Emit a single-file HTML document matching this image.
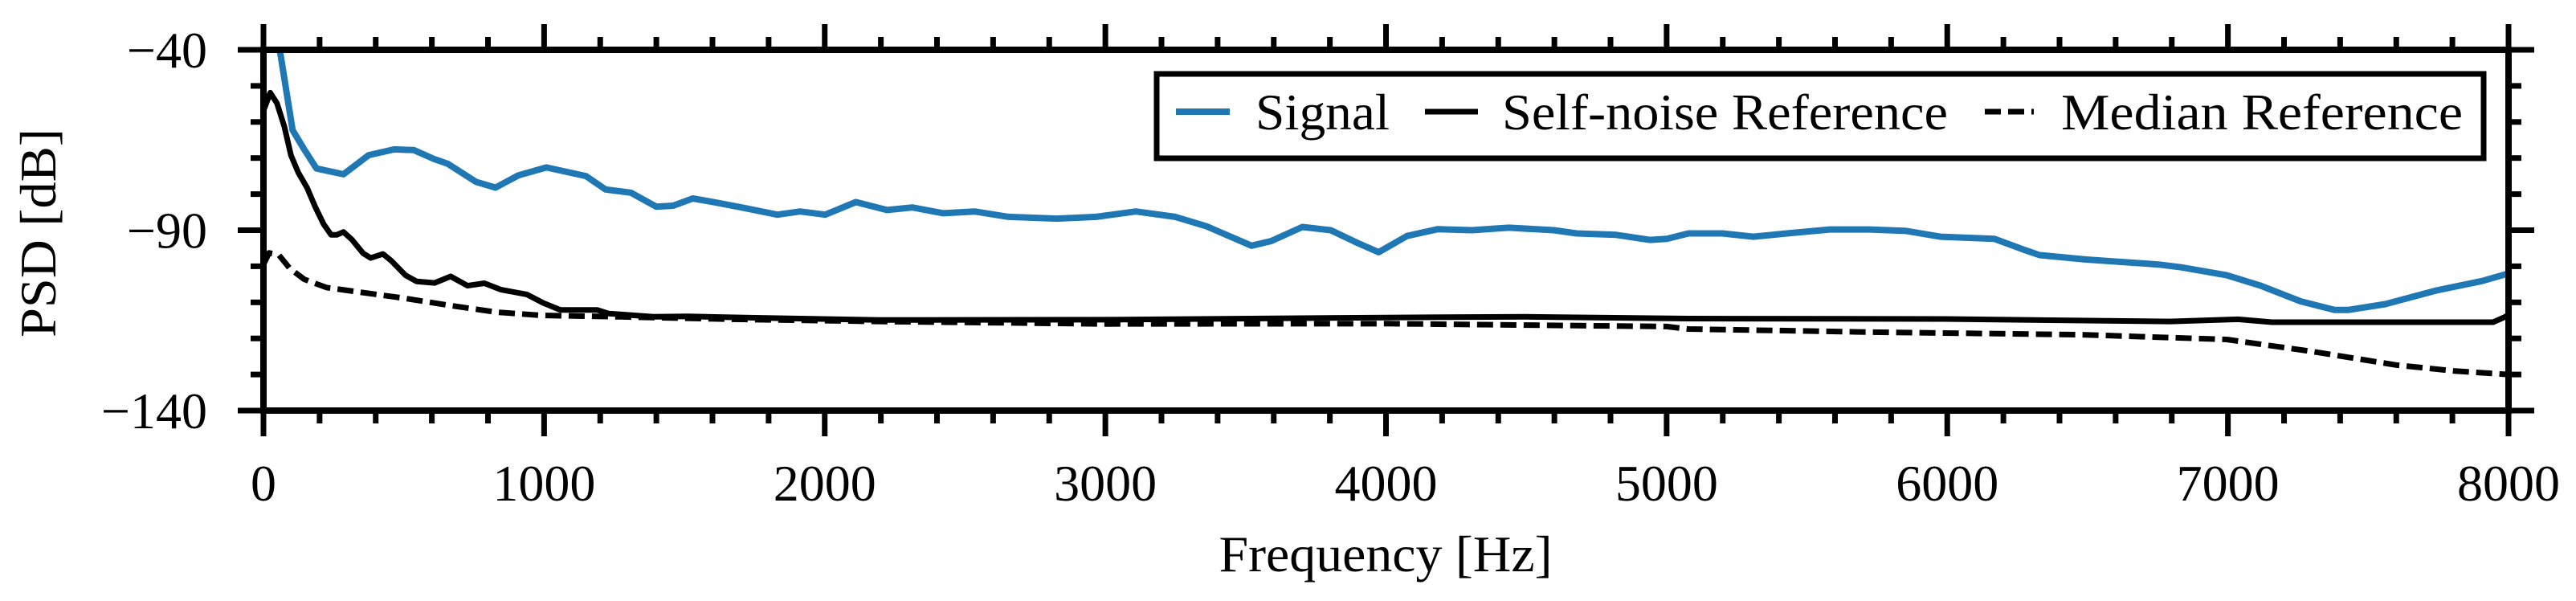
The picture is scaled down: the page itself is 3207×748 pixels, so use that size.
<!DOCTYPE html>
<html><head><meta charset="utf-8"><style>
html,body{margin:0;padding:0;background:#fff;}
svg{display:block;font-family:"Liberation Serif",serif;}
</style></head><body>
<svg id="chart" width="3207" height="748" viewBox="0 0 3207 748" xmlns="http://www.w3.org/2000/svg">
<defs><clipPath id="plotclip"><rect x="328" y="62" width="2795" height="449"/></clipPath></defs>
<g id="series" clip-path="url(#plotclip)"></g>
<g id="axes"></g>
<text x="1725" y="711" font-size="64" text-anchor="middle" textLength="415" lengthAdjust="spacingAndGlyphs">Frequency [Hz]</text>
<text transform="translate(69,290) rotate(-90)" font-size="64" text-anchor="middle" textLength="260" lengthAdjust="spacingAndGlyphs">PSD [dB]</text>
<g>
<rect x="1440" y="92" width="1652" height="105" fill="#fff" stroke="#000" stroke-width="7"/>
<line x1="1464" y1="139" x2="1531" y2="139" stroke="#1f77b4" stroke-width="8"/>
<text x="1563" y="161" font-size="64" textLength="167" lengthAdjust="spacingAndGlyphs">Signal</text>
<line x1="1774" y1="139" x2="1840" y2="139" stroke="#000" stroke-width="7"/>
<text x="1870" y="161" font-size="64" textLength="555" lengthAdjust="spacingAndGlyphs">Self-noise Reference</text>
<line x1="2471" y1="139" x2="2532" y2="139" stroke="#000" stroke-width="7" stroke-dasharray="20,9"/>
<text x="2566" y="161" font-size="64" textLength="500" lengthAdjust="spacingAndGlyphs">Median Reference</text>
</g>
</svg>
<script>
const signalFreq=[0,40,58,104,145,189,285,375,466,536,606,657,757,827,908,1008,1149,1219,1309,1400,1460,1530,1610,1711,1831,1912,2002,2111,2222,2312,2423,2534,2655,2826,2967,3108,3249,3360,3521,3591,3702,3803,3903,3974,4075,4185,4306,4437,4598,4679,4820,4940,5001,5078,5198,5309,5440,5582,5723,5854,5976,6168,6269,6329,6491,6753,6834,6996,7117,7259,7380,7430,7561,7743,7905,8000];
const signalDb=[-20,-35,-40,-62.3,-67.6,-72.9,-74.5,-69.2,-67.6,-67.8,-70.2,-71.6,-76.6,-78.2,-74.8,-72.6,-75,-78.7,-79.6,-83.5,-83.2,-81.2,-82.3,-83.8,-85.7,-84.8,-85.7,-82.2,-84.4,-83.7,-85.3,-84.8,-86.3,-86.8,-86.3,-84.8,-86.3,-88.9,-94.3,-93,-89.1,-90,-93.7,-96.1,-91.6,-89.7,-90,-89.3,-90,-90.9,-91.3,-92.7,-92.4,-90.9,-90.9,-91.8,-90.8,-89.8,-89.8,-90.2,-91.8,-92.4,-95.3,-96.9,-98.1,-99.5,-100.3,-102.5,-105.4,-109.7,-112.1,-112.1,-110.5,-106.7,-104.1,-102];
const selfFreq=[0,24,48,74,98,124,155,185,215,241,261,285,315,355,382,426,456,506,546,610,667,727,787,847,938,998,1058,1189,1229,1390,1510,1771,2193,3000,4000,4500,5077,5990,6794,7036,7157,7945,7986,8000];
const selfDb=[-56.9,-51.9,-54.8,-61.2,-69.2,-74,-78.2,-83.6,-88.4,-91.3,-91.3,-90.5,-92.6,-96.4,-97.7,-96.6,-98.5,-102.5,-104.2,-104.6,-102.8,-105.4,-104.7,-106.5,-107.8,-110.2,-112.1,-112.1,-113.1,-114,-113.9,-114.3,-114.9,-114.8,-114.2,-114,-114.5,-114.6,-115.3,-114.7,-115.5,-115.5,-114.1,-113.4];
const medianFreq=[0,20,54,94,145,225,345,506,667,827,988,1269,1671,2193,3000,4000,5000,5077,5683,6491,6996,7299,7602,7804,8000];
const medianDb=[-99.5,-96.3,-96.8,-100.6,-103.6,-105.9,-107.2,-108.9,-110.9,-112.7,-113.6,-114,-114.7,-115.3,-116,-115.9,-116.7,-117.4,-118.2,-119,-120.3,-123.6,-127.4,-129,-130];
const xMajorTicks=[0,1000,2000,3000,4000,5000,6000,7000,8000];
const xTickLabels=["0","1000","2000","3000","4000","5000","6000","7000","8000"];
const yMajorTicks=[-40,-90,-140];
const yTickLabels=["\u221240","\u221290","\u2212140"];

const X0=328,X1=3123,Y0=62,Y1=511;
const xs=f=>X0+(f-0)/(8000-0)*(X1-X0);
const ys=d=>Y0+(-40-d)/(-40-(-140))*(Y1-Y0);
const NS="http://www.w3.org/2000/svg";
const series=document.getElementById('series');
const axes=document.getElementById('axes');
function mk(tag,attrs,parent){const e=document.createElementNS(NS,tag);for(const k in attrs)e.setAttribute(k,attrs[k]);parent.appendChild(e);return e;}
function line(fr,db,color,w,dash,name){
  const pts=fr.map((f,i)=>xs(f).toFixed(1)+','+ys(db[i]).toFixed(1)).join(' ');
  const a={points:pts,fill:'none',stroke:color,'stroke-width':w,'stroke-linejoin':'round'};
  if(dash)a['stroke-dasharray']=dash;
  const p=mk('polyline',a,series);
  
  
}
line(medianFreq,medianDb,'#000',7,'20,9','median-reference-line');
line(selfFreq,selfDb,'#000',7,null,'self-noise-reference-line');
line(signalFreq,signalDb,'#1f77b4',8,null,'signal-line');

const fr=mk('rect',{x:X0,y:Y0,width:X1-X0,height:Y1-Y0,fill:'none',stroke:'#000','stroke-width':8},axes);


for(let f=0;f<=8000;f+=200){
  const major=f%1000===0, L=major?32:16, x=xs(f);
  const t1=mk('line',{x1:x,y1:Y0,x2:x,y2:Y0-L,stroke:'#000','stroke-width':7},axes);
  
  
  const t2=mk('line',{x1:x,y1:Y1,x2:x,y2:Y1+L,stroke:'#000','stroke-width':7},axes);
  
  
}
xMajorTicks.forEach((f,i)=>{
  const t=mk('text',{x:xs(f),y:623,'font-size':64,'text-anchor':'middle'},axes);
  t.textContent=xTickLabels[i];
  
  
});
for(let d=-40;d>=-140;d-=10){
  const major=(d+40)%50===0, L=major?32:16, y=ys(d);
  const t1=mk('line',{x1:X0,y1:y,x2:X0-L,y2:y,stroke:'#000','stroke-width':7},axes);
  
  
  const t2=mk('line',{x1:X1,y1:y,x2:X1+L,y2:y,stroke:'#000','stroke-width':7},axes);
  
  
}
yMajorTicks.forEach((d,i)=>{
  const t=mk('text',{x:258,y:ys(d)+22,'font-size':64,'text-anchor':'end'},axes);
  t.textContent=yTickLabels[i];
  
  
});
</script>
</body></html>
